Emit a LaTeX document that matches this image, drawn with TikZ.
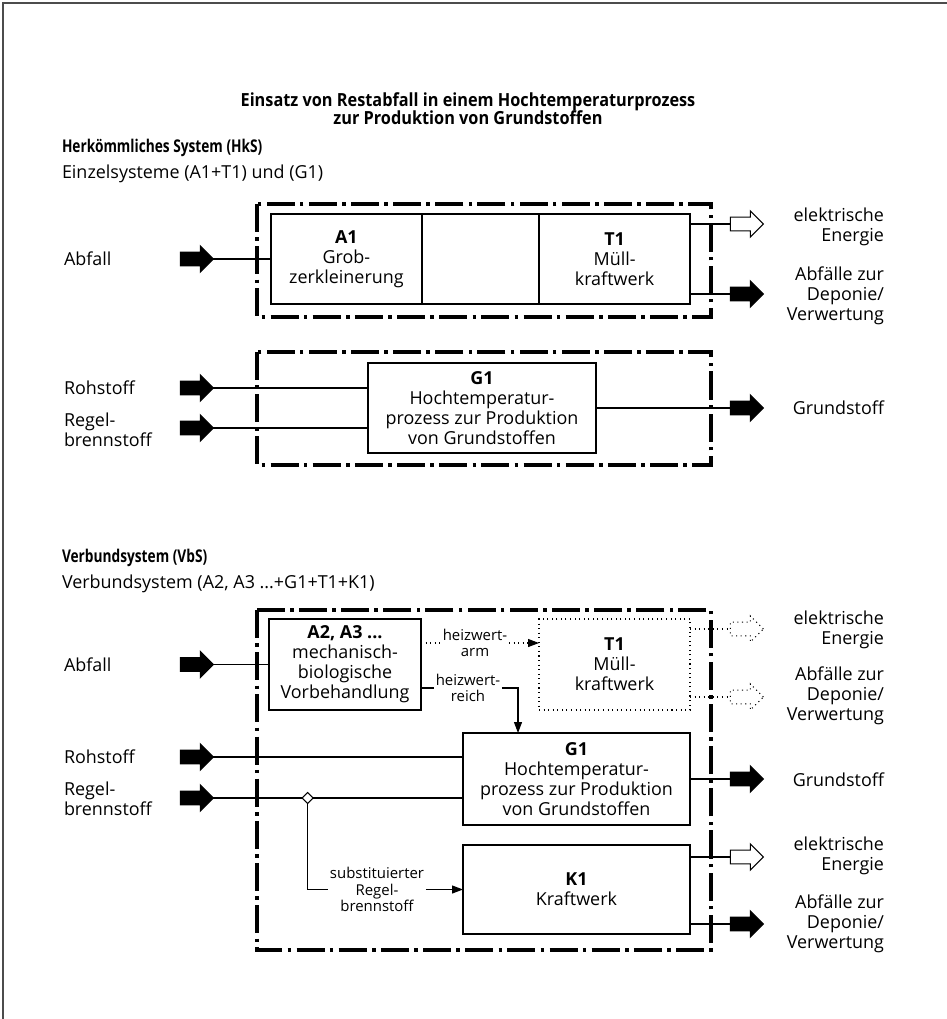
\documentclass[tikz,border=0pt]{standalone}
\usepackage{fontspec}
\setmainfont{Open Sans}
\newfontfamily\headfont[FakeStretch=0.78]{Open Sans}
\newfontfamily\titlefont[FakeStretch=0.9]{Open Sans}
\usetikzlibrary{positioning,shapes.arrows,shapes.geometric,arrows.meta}

\begin{document}
\begin{tikzpicture}[x=0.02cm,y=-0.02cm,inner sep=0pt,outer sep=0pt,
font=\fontsize{10.2}{11.4}\selectfont,
sysblock/.style={draw,rectangle,line width=1.3pt,align=center,minimum height=1.8cm},
sysframe/.style={line width=1.8pt,dash pattern=on 16pt off 3pt on 2pt off 3pt},
flow/.style={line width=0.6pt},
flowtip/.style={-{Triangle[length=2.2mm,width=1.6mm]}},
fat/.style={single arrow,single arrow head extend=0.123cm,minimum height=0.66cm,inner ysep=0.127cm,inner xsep=0pt,line width=0.6pt},
solidfat/.style={fat,draw,fill=black},
openfat/.style={fat,draw,fill=white},
dottedfat/.style={fat,draw,dotted,fill=white},
inlabel/.style={anchor=west,align=left},
outlabel/.style={anchor=east,align=right},
headline/.style={anchor=west,font=\headfont\bfseries\fontsize{10}{11.4}\selectfont},
flowlabel/.style={font=\fontsize{8.5}{9.2}\selectfont,align=center,fill=white,inner sep=1pt}]

\useasboundingbox (0,0) rectangle (947,1019);
\draw[line width=0.6pt,black!70] (3,1019) -- (3,3) -- (947,3);

\node[align=center,font=\titlefont\bfseries\fontsize{10.3}{10.4}\selectfont] (title) at (468,109)
  {Einsatz von Restabfall in einem Hochtemperaturprozess\\zur Produktion von Grundstoffen};

% Herkoemmliches System
\node[headline] (hks) at (62,148) {Herkömmliches System (HkS)};
\node[inlabel] (hksSub) at (62,174) {Einzelsysteme (A1+T1) und (G1)};

\draw[sysframe] (257,204) rectangle (711,317);
\node[sysblock,minimum width=3.03cm] (A1) at (346.4,259) {\textbf{A1}\\Grob-\\zerkleinerung};
\node[sysblock,minimum width=2.34cm,right=0pt of A1] (A1T1) {};
\node[sysblock,minimum width=3.02cm,right=0pt of A1T1] (T1) {\textbf{T1}\\Müll-\\kraftwerk};

\node[inlabel] (abfallA) at (64,259) {Abfall};
\node[solidfat] (inAbfallA) at (193.5,259) {};
\draw[flow] (inAbfallA.tip) -- (inAbfallA.tip -| A1.west);

\node[openfat] (outElA) at (743.5,224) {};
\draw[flow] (T1.east |- outElA) -- (outElA.tail);
\node[outlabel] (elA) at (884,226.5) {elektrische\\Energie};
\node[solidfat] (outAbfA) at (743.5,294) {};
\draw[flow] (T1.east |- outAbfA) -- (outAbfA.tail);
\node[outlabel] (abfA) at (884,296) {Abfälle zur\\Deponie/\\Verwertung};

\draw[sysframe] (257,352) rectangle (711,465);
\node[sysblock,minimum width=4.56cm] (G1a) at (482,408) {\textbf{G1}\\Hochtemperatur-\\prozess zur Produktion\\von Grundstoffen};

\node[inlabel] (rohA) at (64,388) {Rohstoff};
\node[solidfat] (inRohA) at (193.5,388) {};
\draw[flow] (inRohA.tip) -- (inRohA.tip -| G1a.west);
\node[inlabel] (regelA) at (64,430) {Regel-\\brennstoff};
\node[solidfat] (inRegelA) at (193.5,428) {};
\draw[flow] (inRegelA.tip) -- (inRegelA.tip -| G1a.west);

\node[solidfat] (outGrundA) at (743.5,408) {};
\draw[flow] (G1a.east) -- (outGrundA.tail);
\node[outlabel] (grundA) at (884,408) {Grundstoff};

% Verbundsystem
\node[headline] (vbs) at (62,558) {Verbundsystem (VbS)};
\node[inlabel] (vbsSub) at (62,584) {Verbundsystem (A2, A3 ...+G1+T1+K1)};

\draw[sysframe] (257,610) rectangle (711,950);
\node[sysblock,minimum width=3.04cm,minimum height=1.82cm] (A2) at (345,664.5) {\textbf{A2, A3 ...}\\mechanisch-\\biologische\\Vorbehandlung};
\node[sysblock,minimum width=3.02cm,minimum height=1.82cm,line width=0.6pt,dotted] (T1b) at (614.5,664.5) {\textbf{T1}\\Müll-\\kraftwerk};
\node[sysblock,minimum width=4.54cm,minimum height=1.84cm] (G1b) at (576.5,779) {\textbf{G1}\\Hochtemperatur-\\prozess zur Produktion\\von Grundstoffen};
\node[sysblock,minimum width=4.54cm,minimum height=1.78cm] (K1) at (576.5,889.5) {\textbf{K1}\\Kraftwerk};

\node[inlabel] (abfallB) at (64,664.5) {Abfall};
\node[solidfat] (inAbfallB) at (193.5,664.5) {};
\draw[flow] (inAbfallB.tip) -- (A2.west);
\node[inlabel] (rohB) at (64,757) {Rohstoff};
\node[solidfat] (inRohB) at (193.5,757) {};
\draw[flow] (inRohB.tip) -- (inRohB.tip -| G1b.west);
\node[inlabel] (regelB) at (64,799) {Regel-\\brennstoff};
\node[solidfat] (inRegelB) at (193.5,798) {};
\node[draw,diamond,fill=white,line width=0.6pt,minimum size=0.22cm] (split) at (307.7,798) {};
\draw[flow] (inRegelB.tip) -- (split.west);
\draw[flow] (split.east) -- (split.east -| G1b.west);

\node[flowlabel] (harm) at (475,643) {heizwert-\\arm};
\draw[flow,dotted] (A2.east |- harm) -- (harm.west);
\draw[flow,dotted,flowtip] (harm.east) -- (harm.east -| T1b.west);
\node[flowlabel] (hreich) at (468,688) {heizwert-\\reich};
\draw[flow] (A2.east |- hreich) -- (hreich.west);
\draw[flow,flowtip] (hreich.east) -| ([xshift=1.1cm]G1b.north west);

\node[flowlabel] (subst) at (377,889.5) {substituierter\\Regel-\\brennstoff};
\draw[flow] (split.south) |- (subst.west);
\draw[flow,flowtip] (subst.east) -- (subst.east -| K1.west);

\node[dottedfat] (outElB) at (743.5,629) {};
\draw[flow,dotted] (T1b.east |- outElB) -- (outElB.tail);
\node[outlabel] (elB) at (884,629.5) {elektrische\\Energie};
\node[dottedfat] (outAbfB) at (743.5,697) {};
\draw[flow,dotted] (T1b.east |- outAbfB) -- (outAbfB.tail);
\node[outlabel] (abfB) at (884,696) {Abfälle zur\\Deponie/\\Verwertung};

\node[solidfat] (outGrundB) at (743.5,779) {};
\draw[flow] (G1b.east) -- (outGrundB.tail);
\node[outlabel] (grundB) at (884,780) {Grundstoff};

\node[openfat] (outElC) at (743.5,857) {};
\draw[flow] (K1.east |- outElC) -- (outElC.tail);
\node[outlabel] (elC) at (884,856) {elektrische\\Energie};
\node[solidfat] (outAbfC) at (743.5,924) {};
\draw[flow] (K1.east |- outAbfC) -- (outAbfC.tail);
\node[outlabel] (abfC) at (884,924) {Abfälle zur\\Deponie/\\Verwertung};
\end{tikzpicture}
\end{document}
